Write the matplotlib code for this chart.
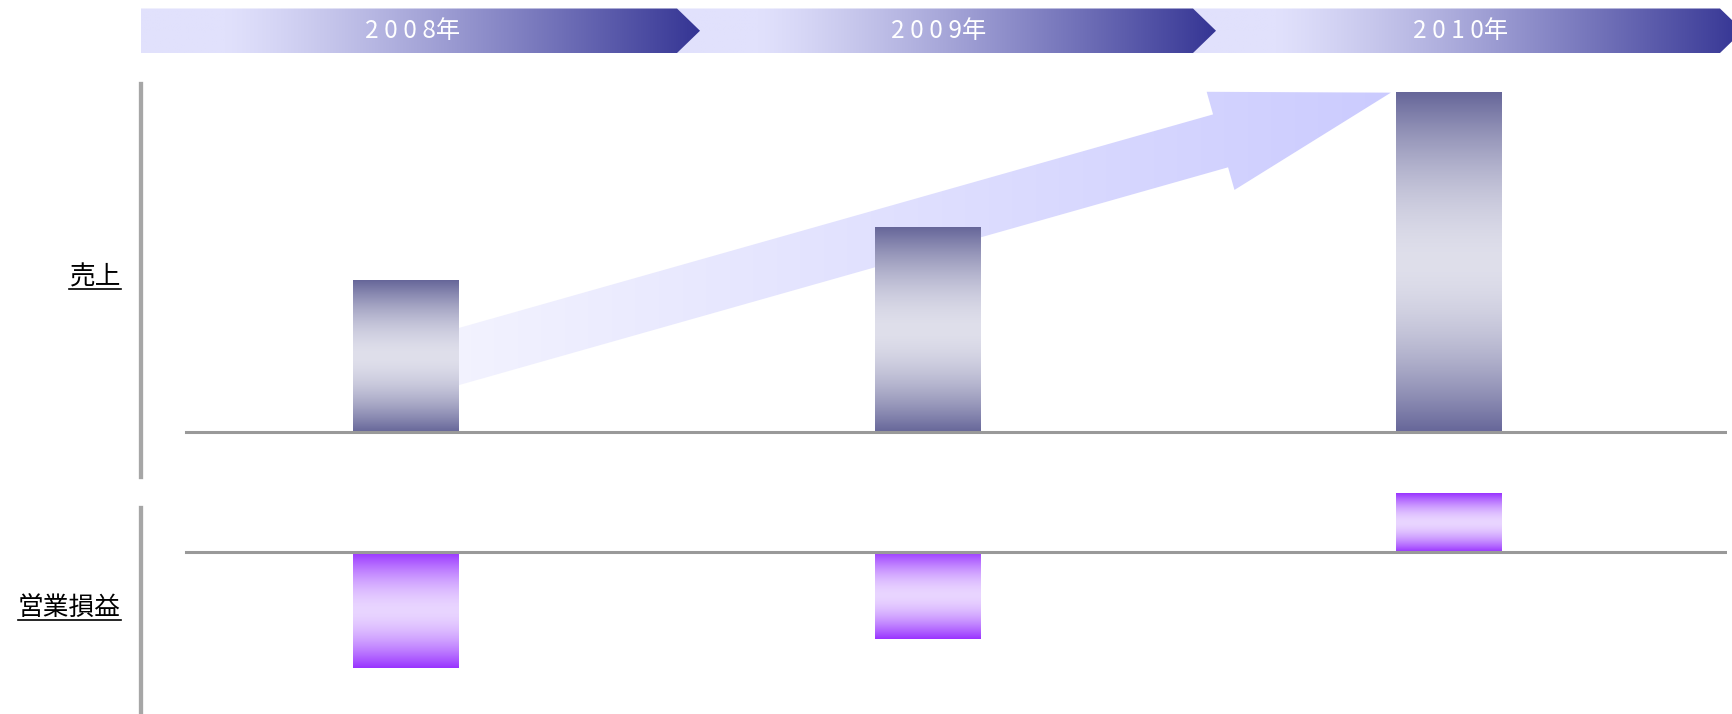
import numpy as np
import matplotlib.pyplot as plt
from matplotlib.patches import Polygon

plt.rcParams['font.family'] = ['Noto Sans CJK JP', 'DejaVu Sans']

years = ['2008年', '2009年', '2010年']
sales = [45, 61, 101]            # 売上
op_income = [-34.5, -26, 17.5]   # 営業損益
row_labels = ['売上', '営業損益']

W, H = 1733, 714
fig = plt.figure(figsize=(W/100, H/100), dpi=100)


def px_axes(x0, y0, x1, y1):
    # axes placed by pixel box (y measured from the top)
    return fig.add_axes([x0/W, 1 - y1/H, (x1 - x0)/W, (y1 - y0)/H])


def vgrad(ax, x0, x1, y0, y1, c_end, c_mid, z):
    # dark at both ends, light in the middle
    t = np.linspace(0, 1, 256)
    w = np.abs(2*t - 1)**1.7
    col = np.outer(1 - w, c_mid) + np.outer(w, c_end)
    ax.imshow(col.reshape(-1, 1, 3)/255, extent=[x0, x1, y0, y1], origin='lower',
              aspect='auto', interpolation='bilinear', zorder=z)


def hgrad_clip(ax, patch, c0, c1, power=1.0, offset=0.0, z=1):
    ext = patch.get_path().get_extents()
    t = np.linspace(0, 1, 256)
    w = np.clip((t - offset)/(1 - offset), 0, 1)**power
    col = np.outer(1 - w, c0) + np.outer(w, c1)
    im = ax.imshow(col.reshape(1, -1, 3)/255, extent=[ext.x0, ext.x1, ext.y0, ext.y1],
                   aspect='auto', interpolation='bilinear', zorder=z)
    im.set_clip_path(patch)


# overlay in pixel coords for header bands and row labels
bg = fig.add_axes([0, 0, 1, 1])
bg.set_xlim(0, W)
bg.set_ylim(H, 0)
bg.axis('off')

ax1 = px_axes(140.5, 84, 1727, 477)
ax2 = px_axes(140.5, 480, 1727, 714)

xs = np.arange(len(years))
bw = 0.203
xlim = (-0.509, 2.533)
ylim1 = (-13.39, 103.57)
ylim2 = (-48.2, 21.43)

for ax in (ax1, ax2):
    ax.patch.set_visible(False)
    ax.set_xticks([])
    ax.set_yticks([])
    for s in ('top', 'right', 'bottom'):
        ax.spines[s].set_visible(False)
    ax.spines['left'].set_color('#a6a6a6')
    ax.spines['left'].set_linewidth(3.1)
    ax.axhline(0, xmin=(186 - 140.5)/(1727 - 140.5), xmax=1, color='#999999', lw=2.2, zorder=5)
ax2.spines['left'].set_bounds(ylim2[0], 13.1)

# 売上 bars
bars = ax1.bar(xs, sales, bw, color='none', zorder=3)
for b in bars:
    vgrad(ax1, b.get_x(), b.get_x() + b.get_width(), b.get_y(), b.get_y() + b.get_height(),
          (102, 102, 153), (223, 223, 235), 3)

# 営業損益 bars
bars = ax2.bar(xs, op_income, bw, color='none', zorder=3)
for b in bars:
    vgrad(ax2, b.get_x(), b.get_x() + b.get_width(), b.get_y(), b.get_y() + b.get_height(),
          (153, 51, 255), (233, 213, 255), 3)

ax1.set_xlim(*xlim)
ax2.set_xlim(*xlim)
ax1.set_ylim(*ylim1)
ax2.set_ylim(*ylim2)

# growth arrow, built in pixel space so the head keeps its shape
tr = ax1.transData
p0 = tr.transform((xs[0], sales[0]*0.4))
p1 = tr.transform((xs[2] - bw/2 - 0.01, sales[2]))
d = p1 - p0
u = d/np.hypot(*d)
n = np.array([-u[1], u[0]])
hl, hw, half = 177, 51, 27.5
base = p1 - u*hl
pts = [p0 + n*half, base + n*half, base + n*hw, p1, base - n*hw, base - n*half, p0 - n*half]
arrow = Polygon(tr.inverted().transform(pts), closed=True, facecolor='none', edgecolor='none')
ax1.add_patch(arrow)
hgrad_clip(ax1, arrow, (245, 245, 254), (203, 203, 255), z=1)
ax1.set_xlim(*xlim)
ax1.set_ylim(*ylim1)

# header chevrons
band_x0 = [141, 677, 1193]
band_x1 = [677, 1193, 1720]
tip, top, bot = 23, 8.5, 53
for i in reversed(range(len(years))):
    x0, x1 = band_x0[i], band_x1[i]
    poly = Polygon([(x0, top), (x1, top), (x1 + tip, (top + bot)/2), (x1, bot), (x0, bot)],
                   closed=True, facecolor='none', edgecolor='none')
    bg.add_patch(poly)
    hgrad_clip(bg, poly, (225, 225, 252), (53, 53, 148), power=1.2, offset=0.15, z=3 - i)
    label = ' '.join(years[i][:-1]) + years[i][-1]
    bg.text((x0 + x1)/2 + 4, 31, label, color='white', ha='center', va='center',
            fontsize=17.5, zorder=10)
bg.set_xlim(0, W)
bg.set_ylim(H, 0)

# row labels with underline
lab_y = [277, 608]
texts = []
for lab, y in zip(row_labels, lab_y):
    texts.append(bg.text(121, y, lab, ha='right', va='center', fontsize=18.5, color='black'))
fig.canvas.draw()
inv = bg.transData.inverted()
for t in texts:
    bb = t.get_window_extent()
    (a, b_), (c, e) = inv.transform([(bb.x0, bb.y0), (bb.x1, bb.y1)])
    bg.plot([a, c], [b_ - 1, b_ - 1], color='black', lw=1.2)

fig.savefig('out.png', dpi=100)
